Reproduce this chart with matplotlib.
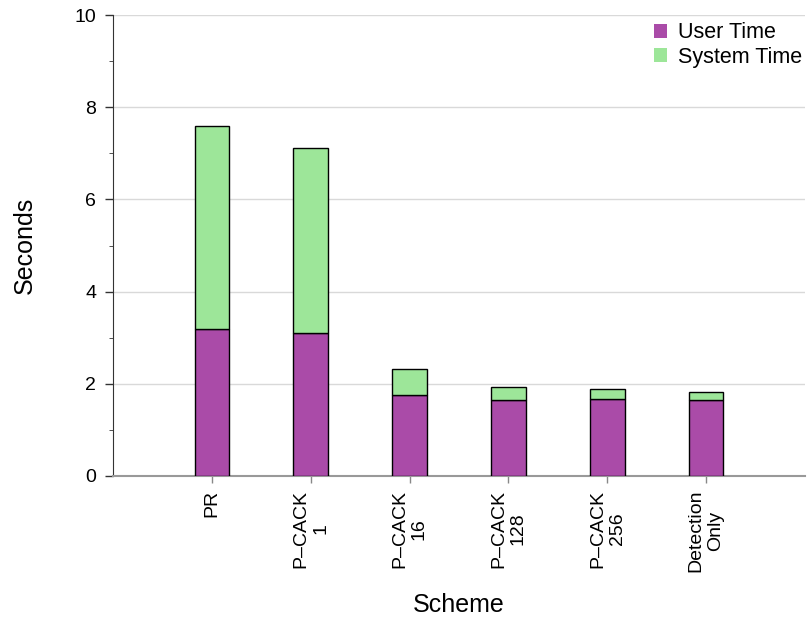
import matplotlib
matplotlib.use("Agg")
import matplotlib.pyplot as plt
import numpy as np

plt.rcParams['font.family'] = ['Liberation Sans', 'DejaVu Sans']

# data
schemes = ["PR", "P\u2013CACK\n1", "P\u2013CACK\n16", "P\u2013CACK\n128", "P\u2013CACK\n256", "Detection\nOnly"]
user_time = [3.19, 3.10, 1.76, 1.65, 1.67, 1.65]
total_time = [7.59, 7.11, 2.32, 1.93, 1.89, 1.82]
system_time = [t - u for t, u in zip(total_time, user_time)]

purple = "#aa4ba8"
green = "#9de699"

fig = plt.figure(figsize=(8.11, 6.21), dpi=100)
ax = fig.add_axes([113/811, 1 - 476/621, (805-113)/811, (476-15)/621])

x = np.arange(1, len(schemes) + 1)
ax.bar(x, user_time, width=0.35, color=purple, edgecolor="black", linewidth=1, label="User Time", zorder=3)
ax.bar(x, system_time, width=0.35, bottom=user_time, color=green, edgecolor="black", linewidth=1, label="System Time", zorder=3)

ax.set_xlim(0, 7)
ax.set_ylim(0, 10)
ax.set_yticks([0, 2, 4, 6, 8, 10])
ax.set_yticks([1, 3, 5, 7, 9], minor=True)
ax.yaxis.grid(True, color="#d9d9d9", linewidth=1, zorder=0)
ax.set_axisbelow(True)

ax.set_xticks(x)
ax.set_xticklabels(schemes, rotation=90, ha="center", va="top", multialignment="center", fontsize=14)
ax.tick_params(axis="y", labelsize=14, length=6, width=1, color="#333333", pad=6)
ax.tick_params(axis="y", which="minor", length=3, color="#333333")
ax.tick_params(axis="x", length=5, width=1, color="#888888", pad=5)

for s in ["top", "right"]:
    ax.spines[s].set_visible(False)
ax.spines["left"].set_color("#333333")
ax.spines["bottom"].set_color("#999999")
ax.spines["bottom"].set_linewidth(1.5)

ax.set_ylabel("Seconds", fontsize=18)
ax.yaxis.set_label_coords((25 - 113) / 692, 0.5)
ax.set_xlabel("Scheme", fontsize=18)
ax.xaxis.set_label_coords(0.5, (476 - 605) / 461)
ax.xaxis.label.set_va("center")
ax.yaxis.label.set_va("center")

leg = ax.legend(loc="upper right", bbox_to_anchor=(1.014, 1.012), frameon=False, fontsize=15.5,
                handlelength=0.6, handleheight=0.6, handletextpad=0.5, labelspacing=0.15,
                borderaxespad=0.2)
for h in leg.legend_handles:
    h.set_edgecolor("none")

fig.savefig("out.png", dpi=100)
